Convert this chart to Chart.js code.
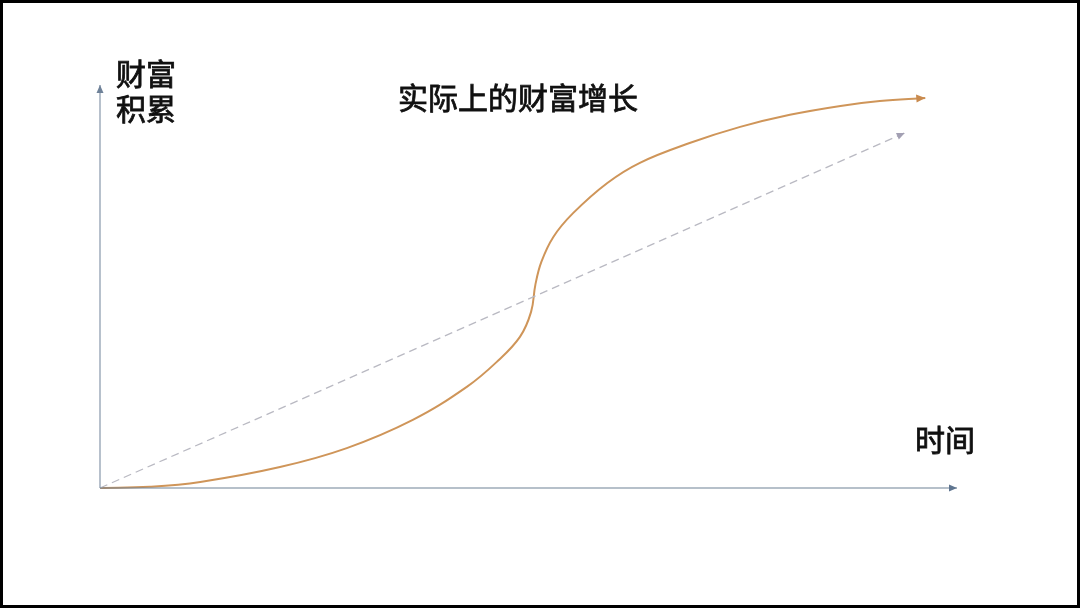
<!DOCTYPE html>
<html>
<head>
<meta charset="utf-8">
<script src="https://cdn.jsdelivr.net/npm/chart.js@4"></script>
<style>
  html, body { margin: 0; padding: 0; background: #fff; }
  canvas { display: block; }
</style>
</head>
<body>
<canvas id="myChart" width="1080" height="608"></canvas>
<script>
// time 0..100, wealth 0..100
var actualX = [0, 5.8, 11.7, 21.0, 28.8, 36.5, 42.8, 46.3, 49.0, 50.3, 50.8, 51.5, 52.9, 55.2, 59.2, 63.0, 68.8, 74.7, 80.5, 86.4, 91.0, 96.3];
var actualY = [0, 0.3, 1.5, 5.2, 9.9, 16.9, 25.1, 31.3, 37.5, 43.7, 50.4, 56.1, 62.3, 68.2, 75.7, 80.7, 85.6, 89.6, 92.6, 94.8, 96.0, 96.8];
var linearX = [0, 93.9];
var linearY = [0, 88.1];
var axisX = [0, 100];
var axisY = [0, 100];

var titleText = "实际上的财富增长";
var yLabel = ["财富", "积累"];
var xLabel = "时间";

function pts(xs, ys) {
  var out = [];
  for (var i = 0; i < xs.length; i++) {
    out.push({ x: xs[i], y: ys[i] });
  }
  return out;
}

var font = '"Noto Sans CJK SC", "Noto Sans", sans-serif';

function label(c, txt, x, y) {
  c.fillText(txt, x, y);
  c.strokeText(txt, x, y); // a bit heavier than regular
}

// arrow head at the last point of each dataset
var arrowPlugin = {
  id: "arrows",
  beforeDraw: function(chart) {
    var c = chart.ctx;
    c.save();
    c.fillStyle = "#fff";
    c.fillRect(0, 0, chart.width, chart.height);
    c.lineWidth = 6;
    c.strokeStyle = "#000";
    c.strokeRect(0, 0, chart.width, chart.height);
    c.restore();
  },
  afterDatasetsDraw: function(chart) {
    var c = chart.ctx;
    chart.data.datasets.forEach(function(ds, i) {
      var meta = chart.getDatasetMeta(i);
      var n = meta.data.length;
      var a = meta.data[n - 2], b = meta.data[n - 1];
      var ang = Math.atan2(b.y - a.y, b.x - a.x);
      var len = ds.arrowLen || 8, w = ds.arrowW || 3.5;
      c.save();
      c.translate(b.x, b.y);
      c.rotate(ang);
      c.beginPath();
      c.moveTo(0, 0);
      c.lineTo(-len, -w);
      c.lineTo(-len, w);
      c.closePath();
      c.fillStyle = ds.arrowColor || ds.borderColor;
      c.fill();
      c.restore();
    });

    c.save();
    c.fillStyle = "#111";
    c.strokeStyle = "#111";
    c.lineWidth = 0.8;
    c.textBaseline = "middle";
    c.font = "30px " + font;
    c.textAlign = "center";
    label(c, titleText, 518, 98);
    c.textAlign = "left";
    label(c, yLabel[0], 116, 74);
    label(c, yLabel[1], 116, 109);
    label(c, xLabel, 915, 440);
    c.restore();
  }
};

var ctx = document.getElementById("myChart");

var chart = new Chart(ctx, {
  type: "line",
  data: {
    datasets: [
      {
        label: "axisY",
        data: pts([0, 0], axisY),
        borderColor: "#8797aa",
        borderWidth: 1.2,
        arrowColor: "#6f8299"
      },
      {
        label: "axisX",
        data: pts(axisX, [0, 0]),
        borderColor: "#6f8196",
        borderWidth: 1.2,
        arrowColor: "#5f7590"
      },
      {
        label: "linear",
        data: pts(linearX, linearY),
        borderColor: "#b9b9c2",
        borderWidth: 1.3,
        borderDash: [8, 5],
        arrowColor: "#a3a0b3"
      },
      {
        label: "actual",
        data: pts(actualX, actualY),
        borderColor: "#cf9559",
        borderWidth: 2,
        tension: 0.4,
        arrowColor: "#c98a4e",
        arrowLen: 9,
        arrowW: 4
      }
    ]
  },
  options: {
    responsive: false,
    animation: false,
    clip: false,
    layout: {
      padding: { left: 100, right: 123, top: 85, bottom: 120 }
    },
    elements: {
      point: { radius: 0 },
      line: { fill: false }
    },
    scales: {
      x: { type: "linear", min: 0, max: 100, display: false },
      y: { type: "linear", min: 0, max: 100, display: false }
    },
    plugins: {
      legend: { display: false },
      tooltip: { enabled: false },
      title: { display: false }
    }
  },
  plugins: [arrowPlugin]
});
</script>
</body>
</html>
